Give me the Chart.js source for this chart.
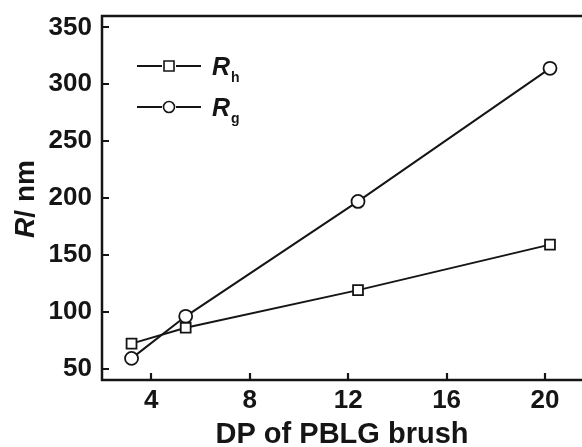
<!DOCTYPE html>
<html>
<head>
<meta charset="utf-8">
<script src="https://cdn.jsdelivr.net/npm/chart.js@4.4.1/dist/chart.umd.min.js"></script>
<style>
  html, body { margin: 0; padding: 0; background: #fff; overflow: hidden; }
  #wrap { width: 582px; height: 447px; position: relative; }
</style>
</head>
<body>
<div id="wrap"><canvas id="c" width="582" height="447"></canvas></div>
<script>
// ---- data ----
const dp = [3.2, 5.4, 12.4, 20.2];          // DP of PBLG brush
const rh = [72, 86, 119, 159];              // R_h / nm
const rg = [59, 96, 197, 314];              // R_g / nm
const xTicks = [4, 8, 12, 16, 20];
const yTicks = [50, 100, 150, 200, 250, 300, 350];
const seriesMain = ['R', 'R'];
const seriesSub = ['h', 'g'];
const xTitle = 'DP of PBLG brush';
const yTitleMain = 'R';
const yTitleRest = '/ nm';

const FONT = "'Liberation Sans', Arial, Helvetica, sans-serif";
const INK = '#151515';

const pts = (xs, ys) => xs.map((x, i) => ({ x: x, y: ys[i] }));

const decor = {
  id: 'decor',
  afterDraw(chart) {
    const ctx = chart.ctx;
    const a = chart.chartArea;
    const xs = chart.scales.x, ys = chart.scales.y;
    ctx.save();
    ctx.strokeStyle = INK;
    ctx.lineWidth = 2.5;
    // frame: left, bottom, top (right side is cut off in the reference)
    ctx.beginPath();
    ctx.moveTo(a.right + 2, a.top); ctx.lineTo(a.left, a.top);
    ctx.lineTo(a.left, a.bottom); ctx.lineTo(a.right + 2, a.bottom);
    ctx.stroke();
    // inward ticks
    ctx.lineWidth = 2.2;
    ctx.beginPath();
    xTicks.forEach(v => {
      const px = Math.round(xs.getPixelForValue(v));
      ctx.moveTo(px, a.bottom); ctx.lineTo(px, a.bottom - 7);
    });
    yTicks.forEach(v => {
      const py = Math.round(ys.getPixelForValue(v));
      ctx.moveTo(a.left, py); ctx.lineTo(a.left + 7, py);
    });
    ctx.stroke();

    // y-axis title (italic R)
    ctx.fillStyle = INK;
    ctx.translate(26, 199);
    ctx.rotate(-Math.PI / 2);
    ctx.textBaseline = 'middle';
    const f1 = 'italic bold 28px ' + FONT, f2 = 'bold 28px ' + FONT;
    ctx.font = f1; const w1 = ctx.measureText(yTitleMain).width;
    ctx.font = f2; const w2 = ctx.measureText(yTitleRest).width;
    let sx = -(w1 + w2) / 2;
    ctx.textAlign = 'left';
    ctx.font = f1; ctx.fillText(yTitleMain, sx, 0);
    ctx.font = f2; ctx.fillText(yTitleRest, sx + w1, 0);
    ctx.restore();

    // legend
    ctx.save();
    const rows = [66, 107];
    chart.data.datasets.forEach((ds, i) => {
      const y = rows[i];
      ctx.strokeStyle = INK;
      ctx.lineWidth = 2;
      ctx.beginPath();
      ctx.moveTo(137, y); ctx.lineTo(162, y);
      ctx.moveTo(176, y); ctx.lineTo(201, y);
      ctx.stroke();
      ctx.fillStyle = '#fff';
      ctx.lineWidth = 1.6;
      ctx.beginPath();
      if (ds.pointStyle === 'rect') { ctx.rect(164, y - 5, 10, 10); }
      else { ctx.arc(169, y, 5.5, 0, Math.PI * 2); }
      ctx.fill(); ctx.stroke();
      ctx.fillStyle = INK;
      ctx.textBaseline = 'alphabetic';
      ctx.textAlign = 'left';
      ctx.font = 'italic bold 25px ' + FONT;
      ctx.fillText(seriesMain[i], 212, y + 9);
      const w = ctx.measureText(seriesMain[i]).width;
      ctx.font = 'bold 14px ' + FONT;
      ctx.fillText(seriesSub[i], 212 + w + 1, y + 16);
    });
    ctx.restore();
  }
};

new Chart(document.getElementById('c'), {
  type: 'line',
  data: {
    datasets: [
      {
        label: 'Rh', data: pts(dp, rh),
        borderColor: INK, borderWidth: 2, backgroundColor: '#fff',
        pointStyle: 'rect', pointRadius: 7, pointBorderWidth: 1.8,
        pointBackgroundColor: '#fff', pointBorderColor: INK, tension: 0
      },
      {
        label: 'Rg', data: pts(dp, rg),
        borderColor: INK, borderWidth: 2, backgroundColor: '#fff',
        pointStyle: 'circle', pointRadius: 6.5, pointBorderWidth: 1.8,
        pointBackgroundColor: '#fff', pointBorderColor: INK, tension: 0
      }
    ]
  },
  options: {
    responsive: false,
    animation: false,
    events: [],
    layout: { autoPadding: false, padding: { left: 0, top: 16, right: 0, bottom: 0 } },
    plugins: { legend: { display: false }, tooltip: { enabled: false } },
    scales: {
      x: {
        type: 'linear', min: 2, max: 21.5,
        afterBuildTicks: s => { s.ticks = xTicks.map(v => ({ value: v })); },
        afterFit: s => { s.height = 67; s.paddingLeft = 0; s.paddingRight = 0; },
        grid: { display: false, drawTicks: false },
        border: { display: false },
        ticks: {
          color: INK, padding: 5,
          font: { family: FONT, size: 26, weight: 'bold' },
          maxRotation: 0, autoSkip: false
        },
        title: {
          display: true, text: xTitle, color: INK, padding: 0,
          font: { family: FONT, size: 29, weight: 'bold', lineHeight: 0.8 }
        }
      },
      y: {
        type: 'linear', min: 40, max: 360,
        afterBuildTicks: s => { s.ticks = yTicks.map(v => ({ value: v })); },
        afterFit: s => { s.width = 102; s.paddingTop = 0; s.paddingBottom = 0; },
        grid: { display: false, drawTicks: false },
        border: { display: false },
        ticks: {
          color: INK, padding: 10,
          font: { family: FONT, size: 26, weight: 'bold' }
        }
      }
    }
  },
  plugins: [decor]
});
</script>
</body>
</html>
